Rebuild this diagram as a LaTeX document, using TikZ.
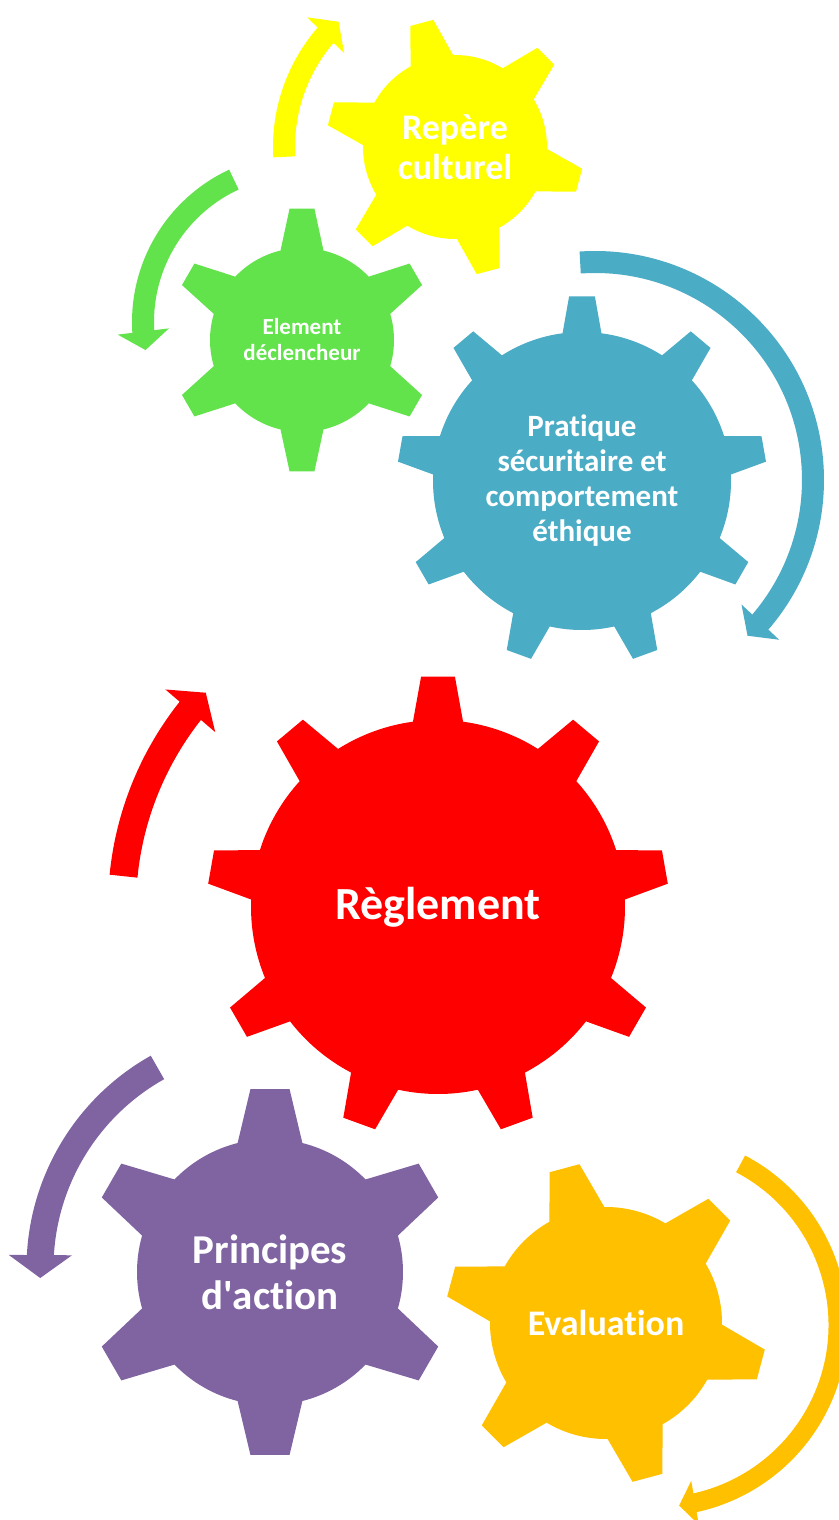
\documentclass[tikz,border=0pt]{standalone}
\usepackage{fontspec}
\setmainfont{Carlito}[Ligatures={NoCommon}]
\usetikzlibrary{arrows.meta,bending}

\definecolor{gearyellow}{RGB}{255,255,0}
\definecolor{geargreen}{RGB}{98,226,75}
\definecolor{gearblue}{RGB}{75,172,198}
\definecolor{gearred}{RGB}{255,0,0}
\definecolor{gearpurple}{RGB}{128,100,162}
\definecolor{gearorange}{RGB}{255,192,0}

\newcommand{\gear}[8]{%
  \fill [#1] ([shift={({#4-#7}:#5)}]#2)
    \foreach \k [evaluate=\k as \angl using #4+(\k-1)*360/#3] in {1,...,#3} {
      -- ([shift={({\angl-#8}:#6)}]#2)
      -- ([shift={({\angl+#8}:#6)}]#2)
      -- ([shift={({\angl+#7}:#5)}]#2)
      arc [start angle=\angl+#7, end angle=\angl+360/#3-#7, radius=#5]
    } -- cycle;
}

\tikzset{
  spinarrow/.style={line width=#1pt, -{Triangle[width=0pt 2.3, length=0pt 0.85]}},
  gearlabel/.style 2 args={text=white, align=center, inner sep=0pt,
    font=\bfseries\fontsize{#1}{#2}\selectfont}
}

\begin{document}
\begin{tikzpicture}[x=1pt,y=1pt]
\path [use as bounding box, fill=white] (0,0) rectangle (838,-1520);

\coordinate (cul) at (455,-147);
\coordinate (dec) at (302,-340);
\coordinate (sec) at (582,-481);
\coordinate (rgl) at (438,-907);
\coordinate (act) at (270,-1272);
\coordinate (eva) at (606,-1323);

\coordinate (decturn) at (300,-322);
\coordinate (secturn) at (595,-480);
\coordinate (actturn) at (270,-1268);
\coordinate (evaturn) at (656,-1325);

\gear{gearyellow}{cul}{6}{105}{92}{129}{13.8}{5.3}
\gear{geargreen}{dec}{6}{90}{92}{132}{13.5}{5.4}
\gear{gearblue}{sec}{9}{90}{149}{185}{7.5}{4.0}
\gear{gearred}{rgl}{9}{90}{187}{231}{7.7}{4.2}
\gear{gearpurple}{act}{6}{90}{133}{184}{14.1}{6.1}
\gear{gearorange}{eva}{6}{105}{116}{161}{14.2}{5.5}

\draw [spinarrow=22, gearyellow] ([shift={(183.3:171)}]cul) arc [start angle=183.3, end angle=132.9, radius=171];
\draw [spinarrow=22, geargreen] ([shift={(114.9:157)}]decturn) arc [start angle=114.9, end angle=190.3, radius=157];
\draw [spinarrow=22, gearblue] ([shift={(93.9:218)}]secturn) arc [start angle=93.9, end angle=-45.6, radius=218];
\draw [spinarrow=28, gearred] ([shift={(174.4:316)}]rgl) arc [start angle=174.4, end angle=137.3, radius=316];
\draw [spinarrow=27, gearpurple] ([shift={(119.3:230)}]actturn) arc [start angle=119.3, end angle=182.5, radius=230];
\draw [spinarrow=19, gearorange] ([shift={(62.3:182)}]evaturn) arc [start angle=62.3, end angle=-82.7, radius=182];

\node (culturel) [gearlabel={36}{40}] at (cul) {Repère\\culturel};
\node (declencheur) [gearlabel={23}{26}] at (dec) {Element\\déclencheur};
\node (securitaire) [gearlabel={31}{35}] at (sec) {Pratique\\sécuritaire et\\comportement\\éthique};
\node (reglement) [gearlabel={46}{50}] at (rgl) {Règlement};
\node (principes) [gearlabel={41}{46}] at (act) {Principes\\d\textquotesingle action};
\node (evaluation) [gearlabel={36}{40}] at (eva) {Evaluation};
\end{tikzpicture}
\end{document}
